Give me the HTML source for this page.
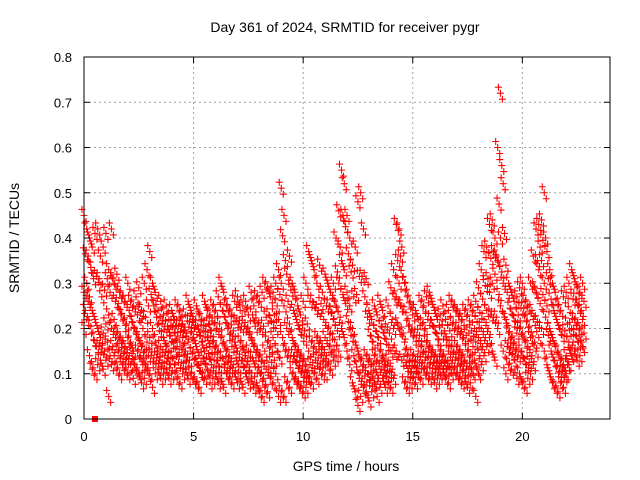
<!DOCTYPE html>
<html><head><meta charset="utf-8"><style>
body{margin:0;background:#fff}
svg{display:block;font-family:"Liberation Sans",sans-serif}
</style></head><body>
<svg id="chart" width="640" height="480">
<rect width="640" height="480" fill="#fff"/>
<text x="345" y="32" font-size="14" text-anchor="middle">Day 361 of 2024, SRMTID for receiver pygr</text>
<text x="346" y="471" font-size="14" text-anchor="middle">GPS time / hours</text>
<text transform="translate(19,238) rotate(-90)" font-size="14" text-anchor="middle">SRMTID / TECUs</text>
<g id="grid"></g>
<g id="marks"></g>
<rect x="84" y="57" width="526" height="362" fill="none" stroke="#000" stroke-width="1"/>
<g id="ticks"></g>
</svg>
<script>
const xTicks=[0,5,10,15,20];
const yTicks=[0,0.1,0.2,0.3,0.4,0.5,0.6,0.7,0.8];
const yTickLabels=["0","0.1","0.2","0.3","0.4","0.5","0.6","0.7","0.8"];
const step=0.125;
const hiVals=[0.45,0.42,0.40,0.38,0.41,0.42,0.36,0.38,0.41,0.33,0.42,0.30,0.32,0.28,0.27,0.26,0.30,0.26,0.25,0.27,0.29,0.24,0.30,0.33,0.37,0.30,0.28,0.24,0.26,0.23,0.25,0.22,0.24,0.22,0.25,0.24,0.21,0.23,0.26,0.24,0.22,0.25,0.23,0.22,0.26,0.24,0.23,0.25,0.24,0.27,0.30,0.28,0.25,0.24,0.23,0.26,0.27,0.24,0.25,0.26,0.23,0.28,0.25,0.27,0.26,0.28,0.30,0.29,0.27,0.28,0.30,0.33,0.51,0.45,0.32,0.36,0.30,0.28,0.25,0.23,0.26,0.30,0.37,0.35,0.33,0.30,0.34,0.28,0.32,0.30,0.28,0.30,0.40,0.46,0.55,0.52,0.45,0.40,0.34,0.38,0.48,0.50,0.42,0.31,0.24,0.22,0.25,0.23,0.26,0.24,0.21,0.25,0.29,0.33,0.43,0.42,0.38,0.30,0.27,0.26,0.23,0.24,0.22,0.26,0.25,0.27,0.28,0.26,0.24,0.22,0.23,0.25,0.22,0.24,0.26,0.25,0.24,0.23,0.22,0.24,0.23,0.25,0.24,0.26,0.29,0.33,0.37,0.38,0.43,0.44,0.40,0.60,0.72,0.52,0.34,0.30,0.28,0.26,0.27,0.29,0.30,0.26,0.25,0.30,0.36,0.42,0.43,0.44,0.50,0.37,0.33,0.30,0.28,0.25,0.24,0.27,0.28,0.30,0.33,0.31,0.29,0.28,0.30];
const midVals=[0.28,0.30,0.27,0.24,0.22,0.20,0.18,0.19,0.21,0.23,0.20,0.22,0.19,0.18,0.17,0.16,0.18,0.17,0.15,0.19,0.18,0.16,0.15,0.17,0.18,0.20,0.17,0.15,0.16,0.18,0.16,0.15,0.17,0.19,0.16,0.17,0.18,0.15,0.17,0.19,0.18,0.16,0.14,0.17,0.15,0.18,0.16,0.17,0.16,0.15,0.18,0.17,0.15,0.14,0.16,0.17,0.15,0.17,0.16,0.14,0.15,0.18,0.16,0.15,0.14,0.13,0.15,0.17,0.16,0.18,0.20,0.22,0.30,0.25,0.20,0.21,0.18,0.16,0.15,0.14,0.13,0.12,0.15,0.17,0.16,0.18,0.17,0.16,0.18,0.20,0.19,0.22,0.25,0.30,0.35,0.33,0.28,0.25,0.20,0.17,0.15,0.13,0.12,0.14,0.13,0.12,0.14,0.13,0.15,0.14,0.12,0.13,0.15,0.20,0.27,0.30,0.25,0.17,0.14,0.13,0.14,0.13,0.15,0.16,0.15,0.17,0.16,0.15,0.14,0.13,0.15,0.14,0.13,0.15,0.16,0.15,0.16,0.15,0.14,0.13,0.15,0.14,0.16,0.17,0.18,0.20,0.22,0.24,0.28,0.30,0.32,0.35,0.40,0.30,0.22,0.19,0.18,0.17,0.19,0.20,0.19,0.17,0.16,0.18,0.22,0.28,0.33,0.35,0.30,0.25,0.20,0.18,0.16,0.15,0.13,0.12,0.14,0.17,0.20,0.22,0.21,0.20,0.22];
const loVals=[0.20,0.22,0.14,0.11,0.10,0.12,0.13,0.11,0.13,0.05,0.12,0.14,0.11,0.10,0.12,0.11,0.10,0.12,0.09,0.11,0.10,0.08,0.09,0.11,0.10,0.07,0.10,0.11,0.09,0.10,0.11,0.09,0.10,0.12,0.09,0.08,0.10,0.11,0.09,0.10,0.09,0.08,0.07,0.10,0.09,0.11,0.08,0.09,0.10,0.08,0.09,0.07,0.10,0.09,0.08,0.10,0.08,0.09,0.07,0.10,0.08,0.09,0.07,0.08,0.06,0.05,0.07,0.06,0.09,0.08,0.10,0.05,0.06,0.05,0.08,0.07,0.10,0.09,0.08,0.07,0.06,0.07,0.09,0.08,0.10,0.09,0.11,0.10,0.10,0.12,0.11,0.13,0.14,0.15,0.20,0.18,0.15,0.12,0.08,0.06,0.03,0.05,0.07,0.06,0.04,0.06,0.08,0.05,0.07,0.09,0.07,0.08,0.07,0.09,0.15,0.20,0.13,0.08,0.07,0.08,0.09,0.08,0.10,0.09,0.11,0.10,0.09,0.10,0.08,0.09,0.10,0.11,0.09,0.08,0.10,0.11,0.10,0.09,0.08,0.09,0.07,0.08,0.10,0.05,0.10,0.12,0.14,0.16,0.18,0.15,0.13,0.20,0.25,0.15,0.10,0.12,0.11,0.13,0.09,0.10,0.08,0.07,0.09,0.10,0.12,0.15,0.18,0.20,0.15,0.12,0.10,0.08,0.07,0.06,0.08,0.07,0.10,0.12,0.14,0.15,0.13,0.14,0.16];
const specialT=[0.5], specialV=[0];

const X=t=>84+t*(526/24);
const Y=v=>419-v*(362/0.8);
const NS="http://www.w3.org/2000/svg";
const grid=document.getElementById('grid'), ticks=document.getElementById('ticks'), marks=document.getElementById('marks');
function mk(tag,attrs,parent){const e=document.createElementNS(NS,tag);for(const k in attrs)e.setAttribute(k,attrs[k]);parent.appendChild(e);return e;}
xTicks.forEach(t=>{
  const x=X(t);
  if(t>0){const g=mk('line',{x1:x,x2:x,y1:57,y2:419,stroke:'#a0a0a0','stroke-dasharray':'2,3'},grid);
  
  }
  mk('line',{x1:x,x2:x,y1:419,y2:413,stroke:'#000'},ticks);
  mk('line',{x1:x,x2:x,y1:57,y2:63,stroke:'#000'},ticks);
  const l=mk('text',{x:x,y:441,'font-size':13,'text-anchor':'middle'},ticks);l.textContent=t;
  
  
});
yTicks.forEach((v,i)=>{
  const y=Y(v);
  if(i>0&&i<yTicks.length-1){const g=mk('line',{x1:84,x2:610,y1:y,y2:y,stroke:'#a0a0a0','stroke-dasharray':'2,3'},grid);
  
  }
  mk('line',{x1:84,x2:90,y1:y,y2:y,stroke:'#000'},ticks);
  mk('line',{x1:604,x2:610,y1:y,y2:y,stroke:'#000'},ticks);
  const l=mk('text',{x:72,y:y+5,'font-size':13,'text-anchor':'end'},ticks);l.textContent=yTickLabels[i];
  
  
});
// cluster marker glyph: each sample drawn as a small group of plus signs
const clusterDX=[0,-2,2], clusterDY=[0,-6,6];
function plus(t,v,color,name){
  const x=X(t),y=Y(v);
  let d='';
  for(let k=0;k<clusterDX.length;k++){const cx=x+clusterDX[k],cy=y+clusterDY[k];d+=`M${cx-3.5},${cy}h7M${cx},${cy-3.5}v7`;}
  const p=mk('path',{d:d,stroke:color,'stroke-width':1.1,fill:'none'},marks);
  
  
}
[[hiVals,'point-high'],[midVals,'point-mid'],[loVals,'point-low']].forEach(([arr,name])=>{
  arr.forEach((v,i)=>{plus(i*step,v,'#f00',name);});
});
hiVals.forEach((v,i)=>{plus(i*step+step/2,(v+midVals[i])/2,'#f00','point-upper');});
loVals.forEach((v,i)=>{plus(i*step+step/2,(v+midVals[i])/2,'#f00','point-lower');});
specialT.forEach((t,i)=>{
  const s=mk('rect',{x:X(t)-3,y:Y(specialV[i])-3,width:6,height:6,fill:'#f00'},marks);
  
  
});
</script>
</body></html>
